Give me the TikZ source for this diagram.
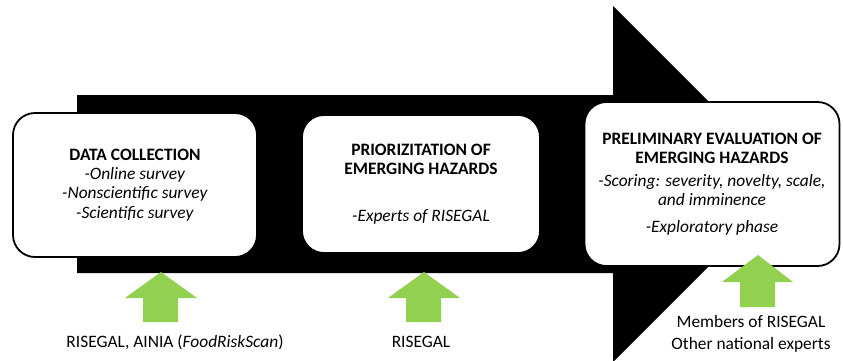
\documentclass[tikz,border=0pt]{standalone}
\usepackage{fontspec}
\setmainfont{Carlito}
\definecolor{offgreen}{HTML}{92D050}
\begin{document}
\begin{tikzpicture}[x=1pt,y=-1pt,
  stage/.style={draw=black, line width=1.8pt, fill=white, rounded corners=22pt,
    align=center, inner sep=0pt, font=\fontsize{17.4}{19.3}\selectfont},
  label/.style={align=center, inner sep=0pt, font=\fontsize{17.4}{22}\selectfont},
  uparrow/.style={fill=offgreen}]
\useasboundingbox (0,0) rectangle (843,360);
% big black arrow
\fill[black] (77,95) -- (613,95) -- (613,6) -- (791,184) -- (613,362) -- (613,273) -- (77,273) -- cycle;
% stages
\node[stage, minimum width=244pt, minimum height=144pt] (s1) at (135,185)
  {\textbf{DATA COLLECTION}\\\textit{-Online survey}\\\textit{-Nonscientific survey}\\\textit{-Scientific survey}};
\node[stage, minimum width=238pt, minimum height=138pt] (s2) at (421,184)
  {\textbf{PRIORIZITATION OF}\\\textbf{EMERGING HAZARDS}\\[27pt]\textit{-Experts of RISEGAL}};
\node[stage, minimum width=255pt, minimum height=164pt] (s3) at (712,184)
  {\textbf{PRELIMINARY EVALUATION OF}\\\textbf{EMERGING HAZARDS}\\[4pt]\textit{-Scoring: severity, novelty, scale,}\\[-1pt]\textit{and imminence}\\[8pt]\textit{-Exploratory phase}};
% green arrows
\fill[uparrow] (161,272) -- (197,298) -- (178,298) -- (178,322) -- (143,322) -- (143,298) -- (125,298) -- cycle;
\fill[uparrow] (424,272) -- (460,298) -- (441,298) -- (441,322) -- (406,322) -- (406,298) -- (388,298) -- cycle;
\fill[uparrow] (758,255) -- (793,282) -- (775,282) -- (775,307) -- (740,307) -- (740,282) -- (722,282) -- cycle;
% labels
\node[label] (l1) at (175,342) {RISEGAL, AINIA (\textit{FoodRiskScan})};
\node[label] (l2) at (421,342) {RISEGAL};
\node[label] (l3) at (751,334) {Members of RISEGAL\\Other national experts};
\end{tikzpicture}
\end{document}
